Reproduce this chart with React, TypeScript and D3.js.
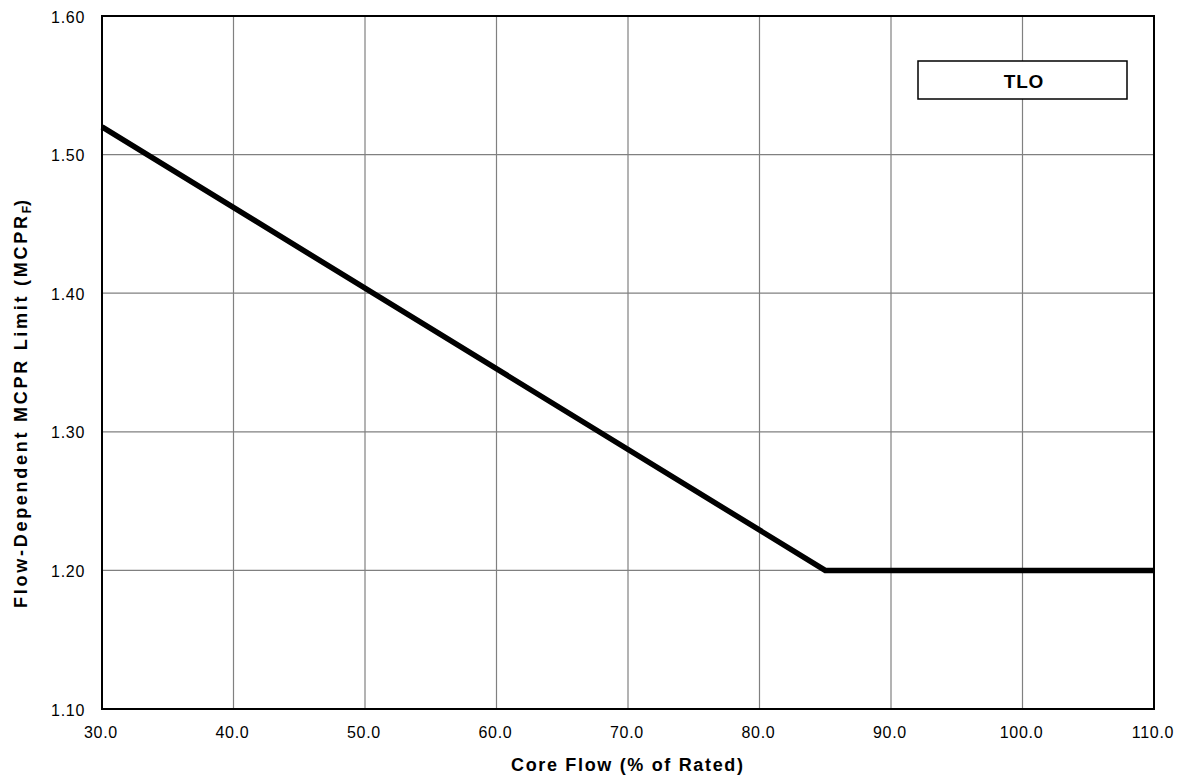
import React from "react";
import * as d3 from "d3";

const xTicks = [30, 40, 50, 60, 70, 80, 90, 100, 110];
const yTicks = [1.1, 1.2, 1.3, 1.4, 1.5, 1.6];
const flowValues = [30, 85, 110];
const mcprValues = [1.52, 1.2, 1.2];
const legendLabel = "TLO";

const W = 1182;
const H = 779;
const m = { left: 102, right: 28, top: 16, bottom: 70 };

export default function App() {
  const x = d3.scaleLinear().domain([30, 110]).range([m.left, W - m.right]);
  const y = d3.scaleLinear().domain([1.1, 1.6]).range([H - m.bottom, m.top]);
  const pts: [number, number][] = flowValues.map((f, i) => [f, mcprValues[i]]);
  const line = d3
    .line<[number, number]>()
    .x((d) => x(d[0]))
    .y((d) => y(d[1]));
  const font = "Liberation Sans, Arial, sans-serif";
  return (
    <svg
      width={W}
      height={H}
      style={{ position: "absolute", left: 0, top: 0 }}
      fontFamily={font}
    >
      <rect x={0} y={0} width={W} height={H} fill="#fff" />
      {xTicks.slice(1, -1).map((t) => (
        <line key={"gx" + t} x1={x(t)} x2={x(t)} y1={y(1.6)} y2={y(1.1)} stroke="#808080" strokeWidth={1.2} />
      ))}
      {yTicks.slice(1, -1).map((t) => (
        <line key={"gy" + t} x1={x(30)} x2={x(110)} y1={y(t)} y2={y(t)} stroke="#808080" strokeWidth={1.2} />
      ))}
      <rect
        x={x(30)}
        y={y(1.6)}
        width={x(110) - x(30)}
        height={y(1.1) - y(1.6)}
        fill="none"
        stroke="#000"
        strokeWidth={2}
      />
      <path d={line(pts) || ""} fill="none" stroke="#000" strokeWidth={5.5} strokeLinejoin="miter" />
      {xTicks.map((t) => (
        <text key={"tx" + t} x={x(t) - 1} y={y(1.1) + 29} textAnchor="middle" fontSize={16} letterSpacing={0.7}>
          {t.toFixed(1)}
        </text>
      ))}
      {yTicks.map((t) => (
        <text key={"ty" + t} x={x(30) - 17} y={y(t) + 6.5} textAnchor="end" fontSize={16} letterSpacing={0.7}>
          {t.toFixed(2)}
        </text>
      ))}
      <text
        x={627}
        y={771}
        textAnchor="middle"
        fontSize={18}
        fontWeight="bold"
        textLength={232}
        lengthAdjust="spacing"
      >
        Core Flow (% of Rated)
      </text>
      <g transform={`translate(27, 393) rotate(-90)`}>
        <text x={-215} y={0} fontSize={18} fontWeight="bold">
          <tspan textLength={392} lengthAdjust="spacing">Flow-Dependent MCPR Limit (MCPR</tspan>
          <tspan fontSize={12} dy={4}>F</tspan>
          <tspan dy={-4}>)</tspan>
        </text>
      </g>
      <rect x={918} y={61} width={209} height={38} fill="#fff" stroke="#000" strokeWidth={1.5} />
      <text x={1024} y={88} textAnchor="middle" fontSize={19} fontWeight="bold" letterSpacing={0.8}>
        {legendLabel}
      </text>
    </svg>
  );
}
